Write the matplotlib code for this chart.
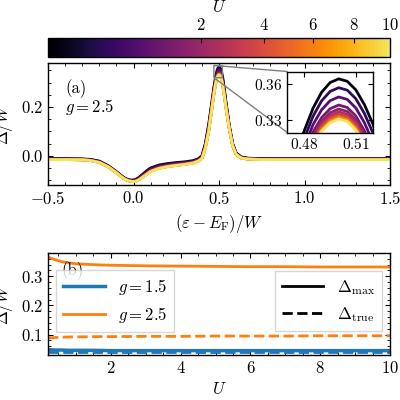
import numpy as np
import matplotlib
matplotlib.use("Agg")
import matplotlib.pyplot as plt
from matplotlib.colors import PowerNorm, ListedColormap
from matplotlib.lines import Line2D

plt.rcParams.update({"font.family": "serif", "font.serif": ["cmr10", "DejaVu Serif"],
                     "mathtext.fontset": "cm", "axes.formatter.use_mathtext": True,
                     "font.size": 12, "xtick.direction": "in", "ytick.direction": "in",
                     "xtick.top": True, "ytick.right": True,
                     "xtick.minor.visible": True, "ytick.minor.visible": True,
                     "axes.linewidth": 1.0})

# Panel (a) data
eps = [-0.5,-0.4,-0.3,-0.25,-0.2,-0.15,-0.1,-0.07,-0.05,-0.03,-0.01,0.01,0.03,0.05,0.08,0.1,0.15,0.2,0.25,0.3,0.35,0.38,0.4,0.42,0.44,0.46,0.47,0.475,0.48,0.485,0.49,0.495,0.5,0.505,0.51,0.515,0.52,0.525,0.53,0.54,0.56,0.58,0.6,0.63,0.67,0.75,0.9,1.1,1.3,1.5]
delta_low = [-0.012,-0.012,-0.013,-0.015,-0.022,-0.04,-0.065,-0.082,-0.092,-0.098,-0.1,-0.098,-0.09,-0.078,-0.06,-0.05,-0.038,-0.032,-0.028,-0.025,-0.02,-0.012,0.0,0.05,0.13,0.23,0.28,0.302,0.322,0.34,0.353,0.361,0.364,0.362,0.355,0.343,0.327,0.306,0.28,0.225,0.125,0.05,0.012,-0.005,-0.01,-0.012,-0.012,-0.012,-0.012,-0.012]
delta_high = [-0.016,-0.016,-0.017,-0.02,-0.028,-0.045,-0.07,-0.087,-0.097,-0.103,-0.106,-0.106,-0.1,-0.09,-0.075,-0.065,-0.052,-0.045,-0.04,-0.036,-0.03,-0.022,-0.012,0.03,0.1,0.2,0.25,0.273,0.293,0.31,0.321,0.328,0.331,0.329,0.322,0.31,0.294,0.273,0.25,0.2,0.11,0.04,0.005,-0.01,-0.014,-0.016,-0.016,-0.016,-0.016,-0.016]
U_values = [0.01, 0.3, 0.7, 1.2, 1.8, 2.5, 3.5, 5, 7, 10]
weights = [0.0, 0.22, 0.45, 0.65, 0.75, 0.82, 0.88, 0.93, 0.97, 1.0]

# Panel (b) data
U_b = [0.2, 0.4, 0.6, 0.8, 1, 1.5, 2, 3, 4, 5, 6, 7, 8, 9, 10]
max_g25 = [0.366, 0.357, 0.350, 0.346, 0.343, 0.340, 0.338, 0.336, 0.335, 0.334, 0.333, 0.333, 0.332, 0.332, 0.332]
true_g25 = [0.088, 0.090, 0.091, 0.092, 0.092, 0.093, 0.093, 0.094, 0.094, 0.095, 0.095, 0.095, 0.096, 0.096, 0.096]
max_g15 = [0.048, 0.047, 0.047, 0.046, 0.046, 0.046, 0.045, 0.045, 0.045, 0.045, 0.045, 0.045, 0.045, 0.045, 0.045]
true_g15 = [0.042, 0.042, 0.042, 0.042, 0.042, 0.042, 0.042, 0.042, 0.042, 0.042, 0.042, 0.042, 0.042, 0.042, 0.042]

fig = plt.figure(figsize=(4, 4), dpi=100)
cax = fig.add_axes([0.12, 0.8575, 0.855, 0.0475])
ax = fig.add_axes([0.12, 0.5375, 0.855, 0.305])
bx = fig.add_axes([0.12, 0.1125, 0.855, 0.255])

base = plt.get_cmap("inferno")
cmap = ListedColormap(base(np.linspace(0, 0.93, 256)))
norm = PowerNorm(0.5, vmin=0.0, vmax=10)
lo = np.array(delta_low); hi = np.array(delta_high)
axins = ax.inset_axes([0.70, 0.43, 0.25, 0.5])
for U, w in zip(U_values, weights):
    y = lo + w * (hi - lo)
    c = cmap(norm(U))
    ax.plot(eps, y, color=c, lw=2)
    axins.plot(eps, y, color=c, lw=2)
ax.set_xlim(-0.5, 1.5)
ax.set_ylim(-0.12, 0.38)
ax.set_xticks([-0.5, 0.0, 0.5, 1.0, 1.5])
ax.set_yticks([0.0, 0.2])
ax.set_xlabel(r"$(\varepsilon - E_{\rm F})/W$")
ax.set_ylabel(r"$\Delta/W$")
ax.text(0.05, 0.87, "(a)", transform=ax.transAxes, va="top")
ax.text(0.05, 0.72, r"$g = 2.5$", transform=ax.transAxes, va="top")
axins.set_xlim(0.47, 0.52)
axins.set_ylim(0.32, 0.37)
axins.set_xticks([0.48, 0.51])
axins.set_yticks([0.33, 0.36])
axins.minorticks_off()
axins.tick_params(labelsize=11)
ax.indicate_inset_zoom(axins, edgecolor="gray", alpha=1, lw=1)

sm = plt.cm.ScalarMappable(norm=norm, cmap=cmap)
cb = fig.colorbar(sm, cax=cax, orientation="horizontal", ticks=[2, 4, 6, 8, 10])
cax.xaxis.set_ticks_position("top")
cax.xaxis.set_label_position("top")
cax.minorticks_off()
cb.set_label(r"$U$")

blue, orange = "#1f77b4", "#ff7f0e"
bx.plot(U_b, max_g15, color=blue, lw=2.5, label=r"$g = 1.5$")
bx.plot(U_b, max_g25, color=orange, lw=2, label=r"$g = 2.5$")
bx.plot(U_b, true_g15, color=blue, lw=2, ls="--")
bx.plot(U_b, true_g25, color=orange, lw=2, ls="--")
bx.set_xlim(0.2, 10)
bx.set_ylim(0.03, 0.38)
bx.set_yticks([0.1, 0.2, 0.3])
bx.set_xticks([2, 4, 6, 8, 10])
bx.set_xlabel(r"$U$")
bx.set_ylabel(r"$\Delta/W$")
bx.text(0.04, 0.92, "(b)", transform=bx.transAxes, va="top")
leg1 = bx.legend(loc="center left", bbox_to_anchor=(0.0, 0.53), fancybox=False,
                 edgecolor="0.8", handlelength=2.5)
bx.add_artist(leg1)
h = [Line2D([], [], color="k", lw=2), Line2D([], [], color="k", lw=2, ls="--")]
bx.legend(h, [r"$\Delta_{\rm max}$", r"$\Delta_{\rm true}$"], loc="center right",
          bbox_to_anchor=(1.0, 0.53), fancybox=False, edgecolor="0.8", handlelength=2.5)

fig.savefig("out.png", dpi=100)
